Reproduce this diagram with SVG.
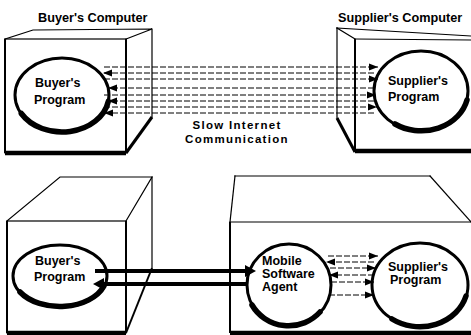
<svg xmlns="http://www.w3.org/2000/svg" width="471" height="335" viewBox="0 0 471 335">
  <defs>
    <style>
      .edge { fill: none; stroke: #000; stroke-width: 1.2; stroke-linecap: square; }
      .edge2 { fill: none; stroke: #000; stroke-width: 2; }
      .base { fill: none; stroke: #000; stroke-width: 4.5; }
      .ring { fill: #fff; stroke: #000; stroke-width: 3; }
      .shade { fill: none; stroke: #000; stroke-width: 5.5; stroke-linecap: round; }
      .lbl { font-family: "Liberation Sans", Arial, Helvetica, sans-serif; font-weight: bold; font-size: 12.5px; fill: #000; }
      .title { font-family: "Liberation Sans", Arial, Helvetica, sans-serif; font-weight: bold; font-size: 12.7px; fill: #000; }
      .slow { font-family: "Liberation Sans", Arial, Helvetica, sans-serif; font-weight: bold; font-size: 11.5px; letter-spacing: 1.3px; fill: #000; }
      .dash { fill: none; stroke: #000; stroke-width: 1; stroke-dasharray: 6 2; }
      .pipe { fill: none; stroke: #000; stroke-width: 4; }
    </style>
    <marker id="tip" viewBox="0 0 10 8" refX="10" refY="4" markerWidth="9" markerHeight="8" markerUnits="userSpaceOnUse" orient="auto">
      <path d="M0,0 L10,4 L0,8 Z" fill="#000"/>
    </marker>
  </defs>

  <rect width="471" height="335" fill="#fff"/>

  <!-- upper scene: buyer's computer -->
  <g id="buyer-computer-top">
    <text class="title" x="38" y="22">Buyer's Computer</text>
    <polyline class="edge" points="5,39 33,30 152,29 126,39"/>
    <line class="edge" x1="152" y1="29" x2="152" y2="117"/>
    <rect class="edge" x="5" y="39" width="121" height="114"/>
    <line class="edge2" x1="5" y1="39" x2="5" y2="153"/>
    <line class="edge2" x1="126" y1="39" x2="126" y2="153"/>
    <line class="base" x1="5" y1="153" x2="126" y2="153"/>
    <line class="edge2" x1="126" y1="153" x2="152" y2="117" style="stroke-width:3"/>
  </g>
  <g id="buyer-program-top">
    <ellipse class="ring" cx="62" cy="95" rx="47" ry="37"/>
    <path class="shade" d="M21.3,113.5 A47,37 0 0 0 108.3,101.4"/>
    <text class="lbl" x="35" y="87">Buyer's</text>
    <text class="lbl" x="34" y="104">Program</text>
  </g>

  <!-- upper scene: supplier's computer -->
  <g id="supplier-computer-top">
    <text class="title" x="338" y="22">Supplier's Computer</text>
    <line class="edge" x1="337" y1="28" x2="471" y2="36"/>
    <line class="edge" x1="337" y1="28" x2="355" y2="39"/>
    <line class="edge" x1="355" y1="39" x2="471" y2="40"/>
    <line class="edge" x1="337" y1="28" x2="337" y2="118"/>
    <line class="edge2" x1="355" y1="39" x2="355" y2="152"/>
    <line class="edge2" x1="337" y1="118" x2="355" y2="152" style="stroke-width:3"/>
    <line class="base" x1="355" y1="151" x2="471" y2="151"/>
  </g>
  <g id="supplier-program-top">
    <ellipse class="ring" cx="421" cy="91" rx="47" ry="40"/>
    <path class="shade" d="M395,124 A47,40 0 0 0 467,100"/>
    <text class="lbl" x="388" y="85">Supplier's</text>
    <text class="lbl" x="388" y="101">Program</text>
  </g>

  <text class="slow" x="237" y="129" text-anchor="middle">Slow Internet</text>
  <text class="slow" x="237" y="143" text-anchor="middle">Communication</text>

  <!-- lower scene: buyer's computer -->
  <g id="buyer-computer-bottom">
    <polyline class="edge" points="7,221 60,177 152,177 126,221"/>
    <line class="edge" x1="152" y1="177" x2="152" y2="268"/>
    <rect class="edge" x="7" y="221" width="119" height="112"/>
    <line class="edge2" x1="7" y1="221" x2="7" y2="333"/>
    <line class="edge2" x1="126" y1="221" x2="126" y2="333"/>
    <line class="edge2" x1="152" y1="268" x2="126" y2="333"/>
    <line class="base" x1="7" y1="333" x2="126" y2="333"/>
  </g>
  <g id="buyer-program-bottom">
    <ellipse class="ring" cx="60" cy="276" rx="47" ry="31"/>
    <path class="shade" d="M20,292 A47,31 0 0 0 104,286"/>
    <text class="lbl" x="35" y="265">Buyer's</text>
    <text class="lbl" x="34" y="281">Program</text>
  </g>

  <!-- lower scene: supplier's computer with the visiting agent -->
  <g id="supplier-computer-bottom">
    <line class="edge" x1="235" y1="176" x2="430" y2="176"/>
    <line class="edge" x1="235" y1="176" x2="230" y2="222"/>
    <line class="edge" x1="430" y1="176" x2="471" y2="222"/>
    <line class="edge" x1="230" y1="222" x2="471" y2="222"/>
    <line class="edge2" x1="230" y1="222" x2="230" y2="333"/>
    <line class="base" x1="230" y1="333" x2="471" y2="333"/>
  </g>
  <g id="mobile-agent">
    <ellipse class="ring" cx="289" cy="285" rx="42" ry="41"/>
    <path class="shade" d="M252,305 A42,41 0 0 0 320,312"/>
    <text class="lbl" x="262" y="265">Mobile</text>
    <text class="lbl" x="262" y="278">Software</text>
    <text class="lbl" x="262" y="291">Agent</text>
  </g>
  <g id="supplier-program-bottom">
    <ellipse class="ring" cx="420" cy="285" rx="48" ry="42"/>
    <path class="shade" d="M392,319 A48,42 0 0 0 466,296"/>
    <text class="lbl" x="388" y="271">Supplier's</text>
    <text class="lbl" x="390" y="284">Program</text>
  </g>

  <!-- connectors -->
  <g id="connectors">
    <!-- slow internet traffic, both directions -->
    <line class="dash" x1="104" y1="67" x2="378" y2="67" marker-end="url(#tip)"/>
    <line class="dash" x1="374" y1="73" x2="103" y2="73" marker-end="url(#tip)"/>
    <line class="dash" x1="104" y1="79" x2="378" y2="79" marker-end="url(#tip)"/>
    <line class="dash" x1="374" y1="88" x2="108" y2="88" marker-end="url(#tip)"/>
    <line class="dash" x1="104" y1="95" x2="376" y2="95" marker-end="url(#tip)"/>
    <line class="dash" x1="374" y1="101" x2="108" y2="101" marker-end="url(#tip)"/>
    <line class="dash" x1="104" y1="107" x2="377" y2="107" marker-end="url(#tip)"/>
    <line class="dash" x1="374" y1="113" x2="104" y2="113" marker-end="url(#tip)"/>

    <!-- agent shipped to the supplier and results returned -->
    <line class="pipe" x1="95" y1="271" x2="247" y2="271"/>
    <path d="M245,265 L256,271 L245,277 Z" fill="#000"/>
    <line class="pipe" x1="102" y1="284" x2="248" y2="284"/>
    <path d="M93,284 L104,278 L104,290 Z" fill="#000"/>

    <!-- fast local exchange between agent and supplier's program -->
    <line class="dash" x1="328" y1="256" x2="378" y2="256" marker-end="url(#tip)"/>
    <line class="dash" x1="374" y1="262" x2="326" y2="262" marker-end="url(#tip)"/>
    <line class="dash" x1="330" y1="268" x2="376" y2="268" marker-end="url(#tip)"/>
    <line class="dash" x1="374" y1="275" x2="329" y2="275" marker-end="url(#tip)"/>
    <line class="dash" x1="331" y1="282" x2="374" y2="282" marker-end="url(#tip)"/>
    <line class="dash" x1="329" y1="295" x2="374" y2="295" marker-end="url(#tip)"/>
  </g>
</svg>
